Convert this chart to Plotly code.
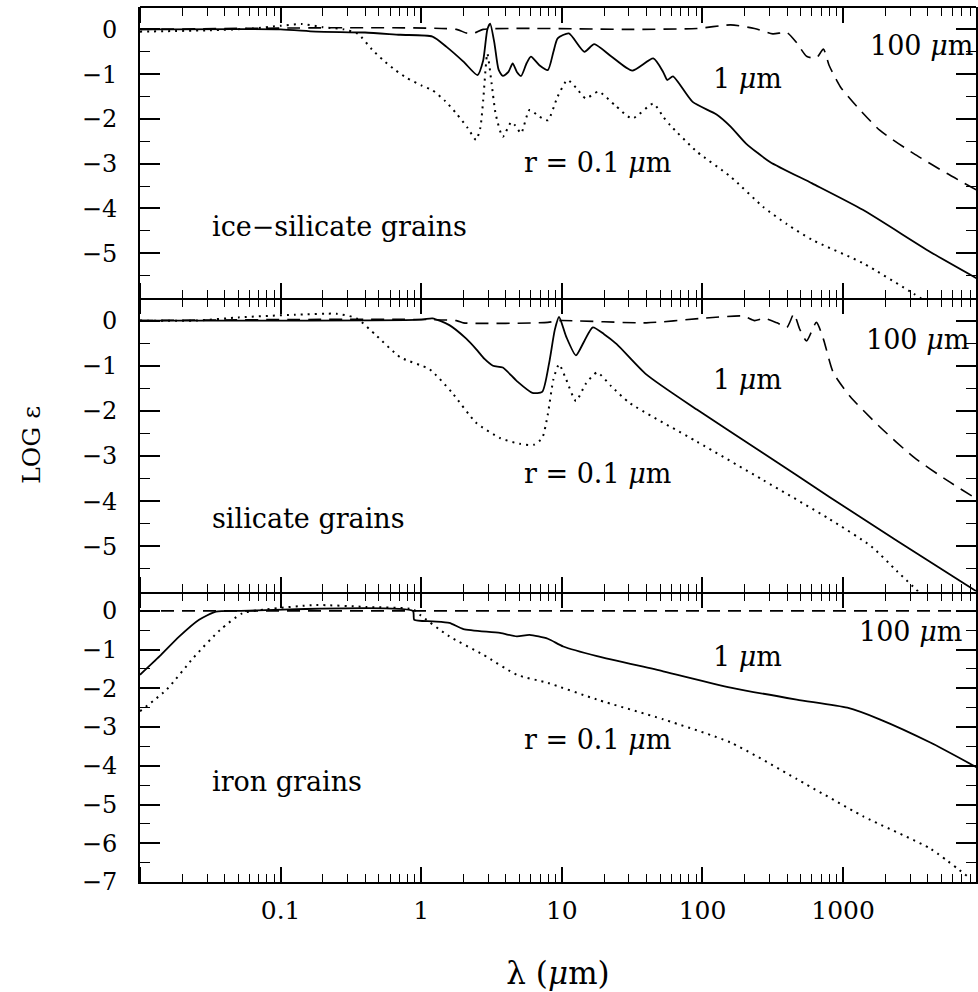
import plotly.graph_objects as go

# ---------------- data (log10 wavelength in micron, log emissivity) ----------------
# ice-silicate grains
ice_r01_loglam = [-2.0, -1.5, -1.2, -1.0, -0.85, -0.7, -0.55, -0.45, -0.35, -0.27, -0.18, -0.1, 0.0, 0.08,
                  0.17, 0.25, 0.33, 0.39, 0.42, 0.44, 0.47, 0.5, 0.53, 0.58, 0.64, 0.67, 0.71, 0.77, 0.84,
                  0.9, 0.97, 1.04, 1.1, 1.17, 1.26, 1.38, 1.5, 1.65, 1.72, 1.77, 1.96, 2.2, 2.43, 2.6,
                  2.78, 3.14, 3.5, 3.6]
ice_r01_eps = [-0.05, -0.02, 0.02, 0.08, 0.12, 0.05, 0.0, -0.1, -0.45, -0.69, -0.92, -1.09, -1.25, -1.36,
               -1.6, -1.88, -2.2, -2.47, -2.2, -1.6, -0.54, -1.2, -1.9, -2.4, -2.07, -2.15, -2.32, -1.8, -1.95,
               -2.03, -1.5, -1.13, -1.3, -1.54, -1.39, -1.7, -1.99, -1.66, -1.95, -2.14, -2.73, -3.29, -3.96, -4.35,
               -4.7, -5.22, -5.9, -6.1]

ice_r1_loglam = [-2.0, -1.0, -0.75, -0.4, -0.15, 0.08, 0.18, 0.3, 0.4, 0.44, 0.47, 0.49, 0.52, 0.55, 0.58,
                 0.62, 0.65, 0.68, 0.71, 0.75, 0.78, 0.84, 0.9, 0.94, 0.97, 1.05, 1.16, 1.23, 1.35, 1.5, 1.65,
                 1.72, 1.75, 1.79, 1.93, 2.1, 2.2, 2.31, 2.48, 2.78, 3.14, 3.62, 3.95]
ice_r1_eps = [0.0, 0.0, -0.05, -0.07, -0.12, -0.16, -0.39, -0.72, -1.02, -0.7, 0.0, 0.13, -0.3, -0.9, -1.04,
              -0.95, -0.76, -0.95, -1.04, -0.75, -0.61, -0.8, -0.91, -0.5, -0.2, -0.09, -0.5, -0.33, -0.6, -0.92, -0.65,
              -0.95, -1.13, -1.05, -1.62, -1.9, -2.17, -2.55, -2.96, -3.44, -4.03, -4.97, -5.56]

ice_r100_loglam = [-2.0, 0.25, 0.32, 0.38, 0.44, 1.5, 1.96, 2.2, 2.37, 2.5, 2.6, 2.67, 2.74, 2.81, 2.86, 2.9,
                   2.98, 3.1, 3.26, 3.5, 3.74, 3.95]
ice_r100_eps = [0.0, 0.0, -0.08, -0.08, 0.0, 0.0, 0.02, 0.1, 0.02, -0.1, -0.07, -0.3, -0.6, -0.64, -0.44, -0.8,
                -1.28, -1.73, -2.25, -2.77, -3.22, -3.59]

# silicate grains
sil_r01_loglam = [-2.0, -1.6, -1.3, -0.9, -0.6, -0.46, -0.32, -0.15, 0.06, 0.22, 0.39, 0.56, 0.7, 0.8, 0.86,
                  0.9, 0.94, 0.98, 1.03, 1.1, 1.17, 1.25, 1.35, 1.48, 1.96, 2.43, 2.9, 3.2, 3.38, 3.55]
sil_r01_eps = [0.0, 0.0, 0.07, 0.13, 0.15, 0.05, -0.33, -0.81, -1.08, -1.6, -2.26, -2.6, -2.73, -2.75, -2.6,
               -2.08, -1.3, -0.97, -1.3, -1.78, -1.4, -1.15, -1.45, -1.82, -2.68, -3.53, -4.39, -5.0, -5.54, -6.05]

sil_r1_loglam = [-2.0, 0.0, 0.08, 0.2, 0.32, 0.39, 0.45, 0.51, 0.58, 0.68, 0.79, 0.86, 0.91, 0.95, 0.98, 1.03,
                 1.1, 1.16, 1.22, 1.3, 1.39, 1.6, 1.96, 2.43, 2.9, 3.38, 3.95]
sil_r1_eps = [0.0, 0.02, 0.05, -0.1, -0.4, -0.63, -0.85, -1.0, -1.04, -1.34, -1.6, -1.58, -0.93, -0.2, 0.08, -0.35,
              -0.77, -0.45, -0.15, -0.3, -0.52, -1.19, -1.97, -2.93, -3.9, -4.87, -6.0]

sil_r100_loglam = [-2.0, 0.25, 0.3, 0.9, 0.98, 1.6, 2.0, 2.29, 2.37, 2.44, 2.53, 2.6, 2.65, 2.69, 2.74, 2.81,
                   2.86, 2.93, 3.05, 3.26, 3.5, 3.74, 3.95]
sil_r100_eps = [0.0, 0.0, -0.05, -0.04, 0.0, -0.05, 0.05, 0.1, 0.0, 0.05, -0.05, -0.15, 0.15, -0.18, -0.45, -0.04,
                -0.41, -1.15, -1.68, -2.35, -3.02, -3.54, -3.95]

# iron grains
iron_r01_loglam = [-2.0, -1.81, -1.62, -1.43, -1.27, -1.1, -0.75, -0.39, -0.06, -0.01, 0.2, 0.44, 0.68, 0.9,
                   1.25, 1.72, 2.2, 2.67, 3.14, 3.62, 3.9]
iron_r01_eps = [-2.59, -2.03, -1.21, -0.49, -0.06, 0.04, 0.15, 0.1, 0.04, -0.1, -0.66, -1.13, -1.65, -1.86,
                -2.29, -2.8, -3.4, -4.34, -5.3, -6.14, -6.9]

iron_r1_loglam = [-2.0, -1.86, -1.72, -1.58, -1.46, -1.3, -0.06, -0.05, 0.08, 0.2, 0.3, 0.56, 0.68, 0.77, 0.9,
                  1.01, 1.25, 1.72, 2.2, 2.67, 3.03, 3.26, 3.62, 3.95]
iron_r1_eps = [-1.65, -1.17, -0.66, -0.23, -0.02, 0.0, 0.0, -0.23, -0.27, -0.31, -0.47, -0.57, -0.66, -0.62, -0.72,
               -0.92, -1.17, -1.56, -1.98, -2.29, -2.5, -2.8, -3.4, -4.04]

iron_r100_loglam = [-2.0, 3.95]
iron_r100_eps = [0.0, 0.0]

panel_names = ["ice\u2212silicate grains", "silicate grains", "iron grains"]
size_labels = ["r = 0.1 <i>\u03bc</i>m", "1 <i>\u03bc</i>m", "100 <i>\u03bc</i>m"]

x_tickvals = [0.01, 0.1, 1, 10, 100, 1000]
x_ticktext = ["", "0.1", "1", "10", "100", "1000"]
y_ticks_top = [0, -1, -2, -3, -4, -5]
y_ticks_bottom = [0, -1, -2, -3, -4, -5, -6, -7]
x_minor_vals = [m * 10.0 ** d for d in range(-2, 4) for m in range(2, 10)]

# ---------------- figure ----------------
fig = go.Figure()

SM = 0.6
solid = dict(color="black", width=1.8, shape="spline", smoothing=SM)
dotted = dict(color="black", width=2, dash="2px,5px", shape="spline", smoothing=SM)
dashed = dict(color="black", width=1.6, dash="13px,8px", shape="spline", smoothing=SM)

panels = [
    (ice_r01_loglam, ice_r01_eps, ice_r1_loglam, ice_r1_eps, ice_r100_loglam, ice_r100_eps),
    (sil_r01_loglam, sil_r01_eps, sil_r1_loglam, sil_r1_eps, sil_r100_loglam, sil_r100_eps),
    (iron_r01_loglam, iron_r01_eps, iron_r1_loglam, iron_r1_eps, iron_r100_loglam, iron_r100_eps),
]
axis_ids = [("x", "y"), ("x2", "y2"), ("x3", "y3")]
for (a_x, a_y, b_x, b_y, c_x, c_y), (xa, ya) in zip(panels, axis_ids):
    fig.add_trace(go.Scatter(x=[10 ** v for v in a_x], y=a_y, mode="lines", line=dotted,
                             name="r = 0.1 \u03bcm", xaxis=xa, yaxis=ya))
    fig.add_trace(go.Scatter(x=[10 ** v for v in b_x], y=b_y, mode="lines", line=solid,
                             name="1 \u03bcm", xaxis=xa, yaxis=ya))
    fig.add_trace(go.Scatter(x=[10 ** v for v in c_x], y=c_y, mode="lines", line=dashed,
                             name="100 \u03bcm", xaxis=xa, yaxis=ya))

XR = [-2, 3.945]
DOM1, DOM2, DOM3 = [0.6674, 1.0], [0.332, 0.6674], [0.0, 0.332]


def panel_xaxis(anchor, labels=False):
    d = dict(type="log", range=XR, domain=[0, 1], anchor=anchor, automargin=False,
             showline=True, linecolor="black", linewidth=2, ticks="",
             tickmode="array", tickvals=x_tickvals, ticktext=x_ticktext,
             showticklabels=labels, showgrid=False, zeroline=False)
    if labels:
        d.update(tickfont=dict(family="DejaVu Serif", size=25, color="black"),
                 ticklabelstandoff=5,
                 title=dict(text="\u03bb (<i>\u03bc</i>m)",
                            font=dict(family="DejaVu Serif", size=31, color="black"), standoff=38))
    return d


def tick_xaxis(side, position, line=False):
    # free-positioned axis whose "outside" ticks point into the neighbouring panel
    return dict(type="log", range=XR, domain=[0, 1], side=side, anchor="free", position=position,
                overlaying="x", automargin=False,
                showline=line, linecolor="black", linewidth=2,
                ticks="outside", ticklen=15, tickwidth=1.5, tickcolor="black",
                tickmode="array", tickvals=x_tickvals, ticktext=x_ticktext,
                showticklabels=False, showgrid=False, zeroline=False,
                minor=dict(ticks="outside", ticklen=8, tickwidth=1.2, tickcolor="black",
                           tickmode="array", tickvals=x_minor_vals, showgrid=False))


def yaxis_def(anchor, dom, rng, vals, title=None):
    d = dict(anchor=anchor, domain=dom, range=rng, tickmode="array", tickvals=vals,
             ticktext=[str(v).replace("-", "\u2212") for v in vals], automargin=False,
             showline=True, linecolor="black", linewidth=2, mirror="ticks", ticks="inside",
             ticklen=20, tickwidth=1.5, tickcolor="black", showgrid=False, zeroline=False,
             tickfont=dict(family="DejaVu Serif", size=24, color="black"), ticklabelstandoff=16,
             minor=dict(ticks="inside", ticklen=10, tickwidth=1.2, tickcolor="black", dtick=0.5,
                        showgrid=False))
    if title:
        d["title"] = dict(text=title, font=dict(family="DejaVu Serif", size=25, color="black"), standoff=34)
    return d


fig.update_layout(
    xaxis=panel_xaxis("y"),
    xaxis2=panel_xaxis("y2"),
    xaxis3=panel_xaxis("y3", labels=True),
    xaxis4=tick_xaxis("bottom", DOM1[1], line=True),   # top frame, ticks down
    xaxis5=tick_xaxis("top", DOM3[0]),                 # bottom frame, ticks up
    xaxis6=tick_xaxis("bottom", DOM1[0]),              # boundary 1, ticks down
    xaxis7=tick_xaxis("top", DOM1[0]),                 # boundary 1, ticks up
    xaxis8=tick_xaxis("bottom", DOM2[0]),              # boundary 2, ticks down
    xaxis9=tick_xaxis("top", DOM2[0]),                 # boundary 2, ticks up
    yaxis=yaxis_def("x", DOM1, [-6, 0.5], y_ticks_top),
    yaxis2=yaxis_def("x2", DOM2, [-6, 0.5], y_ticks_top, "LOG \u03b5"),
    yaxis3=yaxis_def("x3", DOM3, [-7, 0.5], y_ticks_bottom),
)

# empty carriers so the extra tick axes are rendered
for xa in ["x4", "x5", "x6", "x7", "x8", "x9"]:
    fig.add_trace(go.Scatter(x=[0.1], y=[None], mode="lines", xaxis=xa, yaxis="y",
                             showlegend=False, hoverinfo="skip"))

# ---------------- annotations ----------------
afont = dict(family="DejaVu Serif", size=27, color="black")
ann_pos = [
    (-4.41, (1.25, -2.98), (2.32, -1.1), (3.94, -0.35)),
    (-4.38, (1.25, -3.38), (2.32, -1.3), (3.91, -0.41)),
    (-4.40, (1.25, -3.32), (2.32, -1.18), (3.86, -0.54)),
]
for i, (ny, p01, p1, p100) in enumerate(ann_pos):
    xr, yr = axis_ids[i]
    fig.add_annotation(x=-1.5, y=ny, xref=xr, yref=yr, text=panel_names[i], showarrow=False,
                       xanchor="left", yanchor="middle", font=afont)
    fig.add_annotation(x=p01[0], y=p01[1], xref=xr, yref=yr, text=size_labels[0], showarrow=False,
                       xanchor="center", yanchor="middle", font=afont)
    fig.add_annotation(x=p1[0], y=p1[1], xref=xr, yref=yr, text=size_labels[1], showarrow=False,
                       xanchor="center", yanchor="middle", font=afont)
    fig.add_annotation(x=p100[0], y=p100[1], xref=xr, yref=yr, text=size_labels[2], showarrow=False,
                       xanchor="right", yanchor="middle", font=afont)

fig.update_layout(
    width=978, height=992,
    margin=dict(l=140, r=2, t=7, b=110, autoexpand=False),
    paper_bgcolor="white", plot_bgcolor="white",
    showlegend=False,
    font=dict(family="DejaVu Serif", color="black"),
)

fig.write_html("out.html")
